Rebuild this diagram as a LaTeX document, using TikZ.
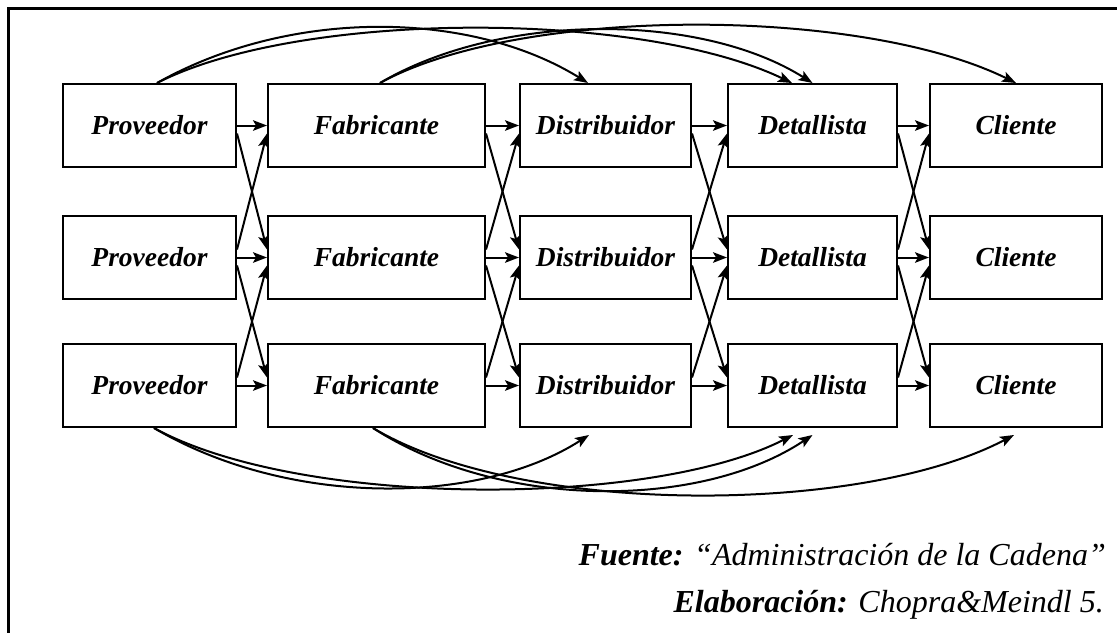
\documentclass[tikz,border=0pt]{standalone}
\usepackage{fontspec}
\setmainfont{Liberation Serif}
\usetikzlibrary{arrows.meta,calc}
\begin{document}
\begin{tikzpicture}[x=1pt,y=-1pt,
  stage/.style={draw, line width=2pt, minimum height=83pt, inner sep=0pt,
    font=\fontsize{27.5}{30}\selectfont\bfseries\itshape},
  flow/.style={line width=2pt, -{Stealth[length=14pt,width=10.5pt,inset=3pt]}},
  note/.style={anchor=base east, inner sep=0pt, font=\fontsize{32}{37}\selectfont},
]
\useasboundingbox (0,0) rectangle (1117,633);

% cell frame (top and left rules)
\draw[line width=3pt] (1117,8) -- (8,8) -- (8,633);

% stages of the chain: three rows per stage
\foreach \r/\y in {1/125.5,2/257.5,3/385.5} {
  \node[stage, minimum width=173pt] (p\r) at (149.5,\y) {Proveedor};
  \node[stage, minimum width=217pt] (f\r) at (376.5,\y) {Fabricante};
  \node[stage, minimum width=171pt] (d\r) at (605.5,\y) {Distribuidor};
  \node[stage, minimum width=169pt] (t\r) at (812.5,\y) {Detallista};
  \node[stage, minimum width=172pt] (c\r) at (1016,\y) {Cliente};
}

% links between neighbouring stages
\foreach \a/\b in {p/f,f/d,d/t,t/c} {
  \foreach \i in {1,2,3}
    \draw[flow] (\a\i.east) -- (\b\i.west);
  \foreach \i/\j in {1/2,2/3} {
    \draw[flow] ($(\a\i.east)+(0,8)$) -- ($(\b\j.west)+(0,-8)$);
    \draw[flow] ($(\a\j.east)+(0,-8)$) -- ($(\b\i.west)+(0,8)$);
  }
}

% long links over the top row
\draw[flow] ($(p1.north)+(7.5,0)$) .. controls (290,8) and (470,10) .. ($(d1.north)+(-17.5,0)$);
\draw[flow] ($(p1.north)+(7.5,0)$) .. controls (300,10) and (640,10) .. ($(t1.north)+(-20.5,0)$);
\draw[flow] ($(f1.north)+(3.5,0)$) .. controls (500,12) and (700,12) .. (t1.north);
\draw[flow] ($(f1.north)+(3.5,0)$) .. controls (520,6) and (860,6) .. (c1.north);

% long links under the bottom row
\draw[flow] ($(p3.south)+(4.5,0)$) .. controls (290,508) and (480,505) .. ($(d3.south)+(-16.5,7)$);
\draw[flow] ($(p3.south)+(4.5,0)$) .. controls (300,508) and (650,508) .. ($(t3.south)+(-19.5,7)$);
\draw[flow] ($(f3.south)+(-3.5,0)$) .. controls (500,510) and (700,510) .. ($(t3.south)+(0,7)$);
\draw[flow] ($(f3.south)+(-3.5,0)$) .. controls (520,516) and (860,516) .. ($(c3.south)+(-2,7)$);

% source lines
\node[note] (fuente) at (1106,565) {\textbf{\textit{Fuente:}} \textit{“Administración de la Cadena”}};
\node[note] (autor) at (1104,612) {\textbf{\textit{Elaboración:}} \textit{Chopra\&Meindl 5.}};
\end{tikzpicture}
\end{document}
